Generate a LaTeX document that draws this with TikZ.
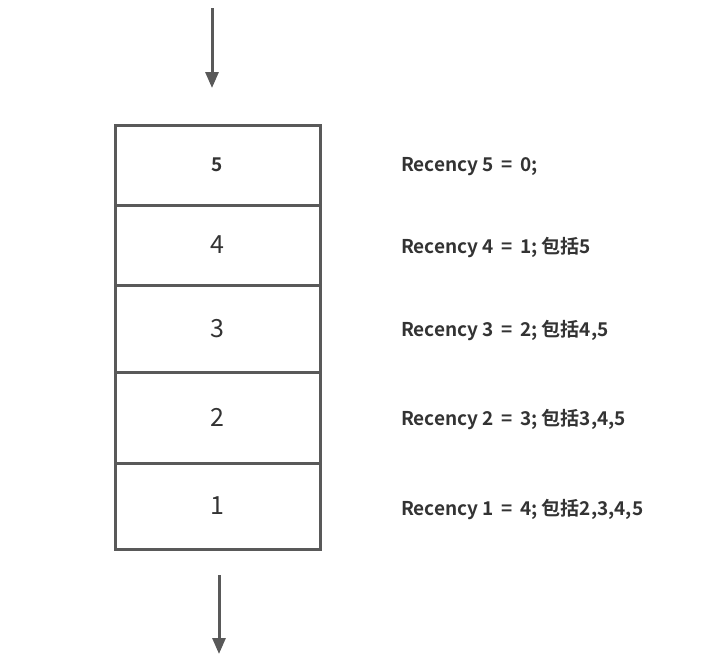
\documentclass[tikz,border=0pt]{standalone}
\usepackage{fontspec}
\setmainfont{Noto Sans CJK SC}[BoldFont={Noto Sans CJK SC Bold}]
\usetikzlibrary{arrows.meta}
\definecolor{edge}{HTML}{595959}
\definecolor{txt}{HTML}{333333}
\tikzset{
  cell/.style={draw=edge, line width=3pt, minimum width=205pt, inner sep=0pt, outer sep=0pt},
  lbl/.style={anchor=west, font=\fontsize{19}{21}\selectfont\bfseries, text=txt, inner sep=0pt},
  flow/.style={draw=edge, line width=3pt, -{Triangle[length=16pt,width=13pt]}}
}
\begin{document}
\begin{tikzpicture}[x=1pt,y=-1pt]
\useasboundingbox (0,0) rectangle (726,667);
\node[cell, minimum height=80pt, anchor=north west, font=\fontsize{19}{21}\selectfont\bfseries, text=txt] (c5) at (115,125) {5};
\node[cell, minimum height=80pt, anchor=north west, font=\fontsize{25}{27}\selectfont, text=txt] (c4) at (115,205) {4};
\node[cell, minimum height=87pt, anchor=north west, font=\fontsize{25}{27}\selectfont, text=txt] (c3) at (115,285) {3};
\node[cell, minimum height=91pt, anchor=north west, font=\fontsize{25}{27}\selectfont, text=txt] (c2) at (115,372) {2};
\node[cell, minimum height=86pt, anchor=north west, font=\fontsize{25}{27}\selectfont, text=txt] (c1) at (115,463) {1};
\coordinate (t0) at (212,8);
\coordinate (t1) at (212,88);
\coordinate (b0) at (219,575);
\coordinate (b1) at (219,654);
\draw[flow] (t0) -- (t1);
\draw[flow] (b0) -- (b1);
\node[lbl] (r5) at (401,167) {Recency 5 \,=\, 0;};
\node[lbl] (r4) at (401,248) {Recency 4 \,=\, 1; 包括5};
\node[lbl] (r3) at (401,330) {Recency 3 \,=\, 2; 包括4,5};
\node[lbl] (r2) at (401,419) {Recency 2 \,=\, 3; 包括3,4,5};
\node[lbl] (r1) at (401,509) {Recency 1 \,=\, 4; 包括2,3,4,5};
\end{tikzpicture}
\end{document}
